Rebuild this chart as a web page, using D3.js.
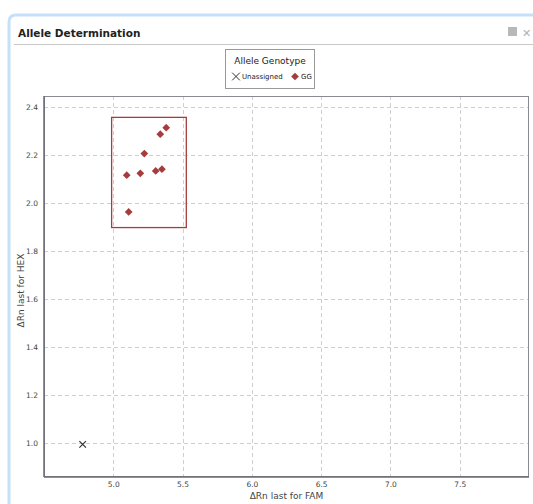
<!DOCTYPE html>
<html><head><meta charset="utf-8">
<script src="https://cdn.jsdelivr.net/npm/d3@7"></script>
<style>
html,body{margin:0;padding:0;background:#fff;}
text{font-family:"DejaVu Sans",Verdana,sans-serif;}
</style></head>
<body>
<svg id="chart" width="533" height="504"></svg>
<script>
const xTicks = [5.0, 5.5, 6.0, 6.5, 7.0, 7.5];
const yTicks = [1.0, 1.2, 1.4, 1.6, 1.8, 2.0, 2.2, 2.4];
const ggX = [5.097, 5.111, 5.195, 5.224, 5.306, 5.351, 5.339, 5.382];
const ggY = [2.117, 1.964, 2.125, 2.207, 2.135, 2.142, 2.288, 2.315];
const unX = [4.779];
const unY = [0.996];
const boxX = [4.988, 5.527];
const boxY = [1.899, 2.358];
const legendLabels = ["Unassigned", "GG"];

const svg = d3.select("#chart");
const red = "#a53d3d";

// panel
svg.append("path")
  .attr("d", "M9,504 L9,22 Q9,15 16,15 L533,15")
  .attr("fill", "none").attr("stroke", "#c5e0fb").attr("stroke-width", 3);
svg.append("text").attr("x", 18).attr("y", 37).text("Allele Determination")
  .attr("font-size", 10.5).attr("font-weight", "bold").attr("fill", "#222");
svg.append("line").attr("x1", 14).attr("x2", 533).attr("y1", 44.5).attr("y2", 44.5)
  .attr("stroke", "#c8c8c8").attr("stroke-width", 1);
// window icons
svg.append("rect").attr("x", 508).attr("y", 27).attr("width", 9).attr("height", 9).attr("fill", "#b8b8b8");
svg.append("text").attr("x", 522).attr("y", 37).text("✕").attr("font-size", 11).attr("font-weight", "bold").attr("fill", "#b0b0b0");

const m = {l: 44, r: 529, t: 96, b: 477};
const x = d3.scaleLinear().domain([4.5, 8.0]).range([m.l, m.r]);
const y = d3.scaleLinear().domain([0.86, 2.447]).range([m.b, m.t]);

// grid
const g = svg.append("g");
g.selectAll("line.gx").data(xTicks).join("line")
  .attr("x1", d => Math.round(x(d)) + 0.5).attr("x2", d => Math.round(x(d)) + 0.5)
  .attr("y1", m.t).attr("y2", m.b)
  .attr("stroke", "#cfcfcf").attr("stroke-dasharray", "4,3");
g.selectAll("line.gy").data(yTicks).join("line")
  .attr("y1", d => Math.round(y(d)) + 0.5).attr("y2", d => Math.round(y(d)) + 0.5)
  .attr("x1", m.l).attr("x2", m.r)
  .attr("stroke", "#cfcfcf").attr("stroke-dasharray", "4,3");

// frame
svg.append("rect").attr("x", m.l + 0.5).attr("y", m.t + 0.5)
  .attr("width", m.r - m.l - 1).attr("height", m.b - m.t - 1)
  .attr("fill", "none").attr("stroke", "#8a8a95").attr("stroke-width", 1);
svg.append("line").attr("x1", m.l).attr("x2", m.r).attr("y1", m.b).attr("y2", m.b)
  .attr("stroke", "#6a6a78").attr("stroke-width", 1.5);
svg.append("line").attr("x1", m.l).attr("x2", m.l).attr("y1", m.t).attr("y2", m.b)
  .attr("stroke", "#6a6a78").attr("stroke-width", 1.5);

// axes labels
const xAxis = d3.axisBottom(x).tickValues(xTicks).tickFormat(d3.format(".1f")).tickSize(0).tickPadding(5);
const xg = svg.append("g").attr("transform", `translate(0,${m.b})`).call(xAxis);
xg.select(".domain").remove();
xg.selectAll("text").attr("font-size", 7.5).attr("fill", "#444").attr("font-family", "DejaVu Sans");
const yAxis = d3.axisLeft(y).tickValues(yTicks).tickFormat(d3.format(".1f")).tickSize(0).tickPadding(6);
const yg = svg.append("g").attr("transform", `translate(${m.l},0)`).call(yAxis);
yg.select(".domain").remove();
yg.selectAll("text").attr("font-size", 7.5).attr("fill", "#444").attr("font-family", "DejaVu Sans");

svg.append("text").attr("x", (m.l + m.r) / 2).attr("y", 499).attr("text-anchor", "middle")
  .text("ΔRn last for FAM").attr("font-size", 9).attr("fill", "#444");
svg.append("text").attr("transform", `translate(24,${(m.t + m.b) / 2 + 4}) rotate(-90)`)
  .attr("text-anchor", "middle").text("ΔRn last for HEX").attr("font-size", 9).attr("fill", "#444");

// selection box
svg.append("rect")
  .attr("x", x(boxX[0])).attr("y", y(boxY[1]))
  .attr("width", x(boxX[1]) - x(boxX[0])).attr("height", y(boxY[0]) - y(boxY[1]))
  .attr("fill", "none").attr("stroke", red).attr("stroke-width", 1.3);

// points
const diamond = d3.symbol().type(d3.symbolSquare).size(30);
svg.selectAll("path.gg").data(ggX.map((v, i) => [v, ggY[i]])).join("path")
  .attr("d", diamond)
  .attr("transform", d => `translate(${x(d[0])},${y(d[1])}) rotate(45)`)
  .attr("fill", red);
const cross = d3.symbol().type(d3.symbolX).size(30);
svg.selectAll("path.un").data(unX.map((v, i) => [v, unY[i]])).join("path")
  .attr("d", cross)
  .attr("transform", d => `translate(${x(d[0])},${y(d[1])})`)
  .attr("fill", "none").attr("stroke", "#333").attr("stroke-width", 1.2);

// legend
const lg = svg.append("g");
lg.append("rect").attr("x", 225.5).attr("y", 49.5).attr("width", 89).attr("height", 39)
  .attr("fill", "#fff").attr("stroke", "#999");
lg.append("text").attr("x", 270).attr("y", 64).attr("text-anchor", "middle")
  .text("Allele Genotype").attr("font-size", 9).attr("fill", "#222");
lg.append("path").attr("d", d3.symbol().type(d3.symbolX).size(40)())
  .attr("transform", "translate(236,76.5)").attr("fill", "none").attr("stroke", "#333").attr("stroke-width", 1);
lg.append("text").attr("x", 242).attr("y", 79).text(legendLabels[0]).attr("font-size", 7).attr("fill", "#222");
lg.append("path").attr("d", d3.symbol().type(d3.symbolSquare).size(30)())
  .attr("transform", "translate(295,76.5) rotate(45)").attr("fill", red);
lg.append("text").attr("x", 301).attr("y", 79).text(legendLabels[1]).attr("font-size", 7).attr("fill", "#222");
</script>
</body></html>
